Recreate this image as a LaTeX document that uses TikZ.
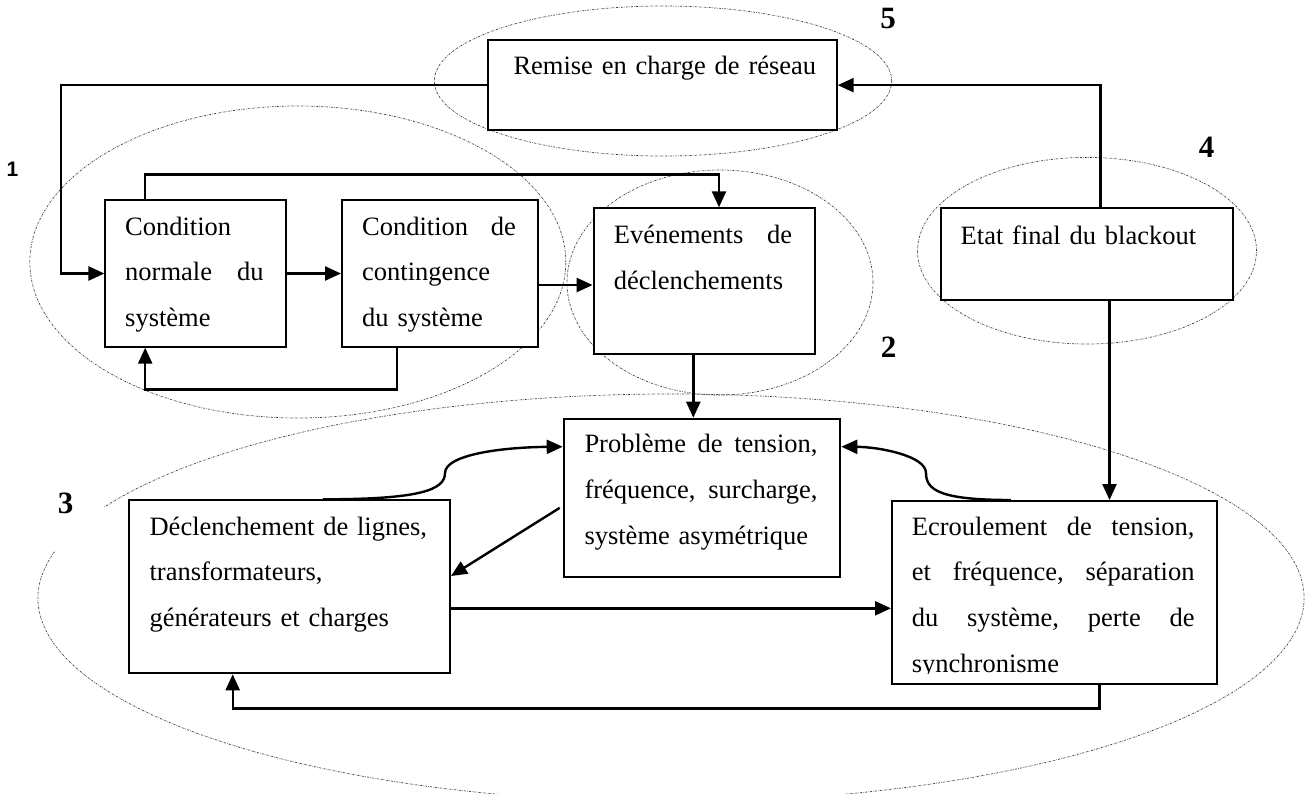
\documentclass[tikz,border=0pt]{standalone}
\usepackage{fontspec}
\setmainfont{Liberation Serif}
\newfontfamily\lsansfam{Liberation Sans}
\usetikzlibrary{arrows.meta,calc}
\newcommand\jf{\hskip 0pt plus 1filll\relax}
\begin{document}
\begin{tikzpicture}[x=1pt,y=-1pt,
  box/.style={draw, line width=2pt, fill=white, rectangle, inner sep=0pt, anchor=north west},
  txt/.style={anchor=north west, inner sep=0pt, align=left, font=\fontsize{26.5}{45.8}\selectfont},
  conn/.style={line width=2.4pt, -{Triangle[length=16pt,width=14pt]}},
  grp/.style={line width=0.7pt, gray!50!black, dash pattern=on 2pt off 1.2pt on 0.5pt off 1.2pt},
  num/.style={font=\fontsize{31}{33}\selectfont\bfseries, inner sep=0pt}]
\useasboundingbox (0,0) rectangle (1305,793);
\clip (0,0) rectangle (1305,793);

% group ellipses
\draw[grp] (297.8,262) ellipse [x radius=268pt, y radius=156pt];
\draw[grp] (663,81) ellipse [x radius=228.7pt, y radius=75pt];
\draw[grp] (720,282.5) ellipse [x radius=153pt, y radius=112.5pt];
\draw[grp] (1087,250.7) ellipse [x radius=169.5pt, y radius=93.3pt];
\draw[grp] ([shift={(166.9:633pt and 204pt)}]671,598) arc[start angle=166.9, end angle=513.5, x radius=633pt, y radius=204pt];

% boxes
\node[box, minimum width=348.4pt, minimum height=90.3pt] (rem) at (487.3,39) {};
\node[box, minimum width=180.6pt, minimum height=146.4pt] (norm) at (104.4,199.3) {};
\node[box, minimum width=196pt, minimum height=146.4pt] (cont) at (341,199.3) {};
\node[box, minimum width=221pt, minimum height=146pt] (evt) at (592.6,207.3) {};
\node[box, minimum width=292.9pt, minimum height=91.7pt] (etat) at (939.5,207.3) {};
\node[box, minimum width=276.6pt, minimum height=158.3pt] (prob) at (562.7,417.7) {};
\node[box, minimum width=320.6pt, minimum height=173pt] (decl) at (128.4,499.3) {};
\node[box, minimum width=324.7pt, minimum height=182.7pt] (ecr) at (891,500) {};

% texts
\node[txt, text width=320pt] (rem-t) at ([shift={(26,3.5)}]rem.north west) {\strut Remise en charge de réseau};
\node[txt, text width=138.4pt] (norm-t) at ([shift={(20.6,3.5)}]norm.north west) {\strut Condition\\normale\jf du\\système};
\node[txt, text width=153.6pt] (cont-t) at ([shift={(21,3.5)}]cont.north west) {\strut Condition\jf de\\contingence\\du système};
\node[txt, text width=178.4pt] (evt-t) at ([shift={(21,4)}]evt.north west) {\strut Evénements\jf de\\déclenchements};
\node[txt, text width=270pt] (etat-t) at ([shift={(21,4.5)}]etat.north west) {\strut Etat final du blackout};
\node[txt, text width=233pt] (prob-t) at ([shift={(21.6,2.8)}]prob.north west) {\strut Problème\jf de\jf tension,\\fréquence,\jf surcharge,\\système asymétrique};
\node[txt, text width=295pt] (decl-t) at ([shift={(21,3.5)}]decl.north west) {\strut Déclenchement de lignes,\\transformateurs,\\générateurs et charges};
\begin{scope}
\clip (891,500) rectangle (1216,673);
\node[txt, text width=282.6pt] (ecr-t) at ([shift={(20.7,2.8)}]ecr.north west) {\strut Ecroulement\jf de\jf tension,\\et\jf fréquence,\jf séparation\\du\jf système,\jf perte\jf de\\synchronisme};
\end{scope}

% helper coordinates
\coordinate (kL) at (61,0);
\coordinate (kT) at (145.2,174.3);
\coordinate (kE) at (719,0);
\coordinate (kB) at (397,389.3);
\coordinate (kR) at (1100.6,0);
\coordinate (kR2) at (1109.5,0);
\coordinate (kY) at (0,285);
\coordinate (kV) at (693.3,0);
\coordinate (kH) at (0,608.3);
\coordinate (kD) at (232.7,708.3);
\coordinate (kX) at (1099.5,0);
\coordinate (kC1) at (445,473);
\coordinate (kC2) at (926,473);

% connectors
\draw[conn] (rem.west) -- (rem.west -| kL) -- (norm.west -| kL) -- (norm.west);
\draw[conn] (norm.east) -- (cont.west);
\draw[conn] (kT |- norm.north) -- (kT) -- (kT -| kE) -- (kE |- evt.north);
\draw[conn] (cont.east |- kY) -- (evt.west |- kY);
\draw[conn] (kB |- cont.south) -- (kB) -- (kB -| kT) -- (kT |- norm.south);
\draw[conn] (kR |- etat.north) -- (kR |- rem.east) -- (rem.east);
\draw[conn] (kR2 |- etat.south) -- (kR2 |- ecr.north);
\draw[conn] (kV |- evt.south) -- (kV |- prob.north);
\draw[conn] (decl.east |- kH) -- (ecr.west |- kH);
\draw[conn] (kX |- ecr.south) -- (kX |- kD) -- (kD) -- (kD |- decl.south);
\draw[conn] ([shift={(-3,10)}]prob.west) -- ([shift={(0,-10.8)}]decl.east);
\draw[conn] ([xshift=33.3pt]decl.north) .. controls (420,499.3) and (445,490) .. (kC1)
  .. controls (445,455) and (500,447.3) .. ([yshift=-29pt]prob.north west);
\draw[conn] ([xshift=-43.4pt]ecr.north) .. controls (940,500) and (926,490) .. (kC2)
  .. controls (926,456) and (880,447) .. ([yshift=-29pt]prob.north east);

% group labels
\node[font=\lsansfam\fontsize{21}{23}\selectfont\bfseries, inner sep=0pt] (l1) at (12.5,169.5) {1};
\node[num] (l2) at (888.5,347) {2};
\node[num] (l3) at (65.5,503.5) {3};
\node[num] (l4) at (1206.5,147) {4};
\node[num] (l5) at (888,18) {5};
\end{tikzpicture}
\end{document}
